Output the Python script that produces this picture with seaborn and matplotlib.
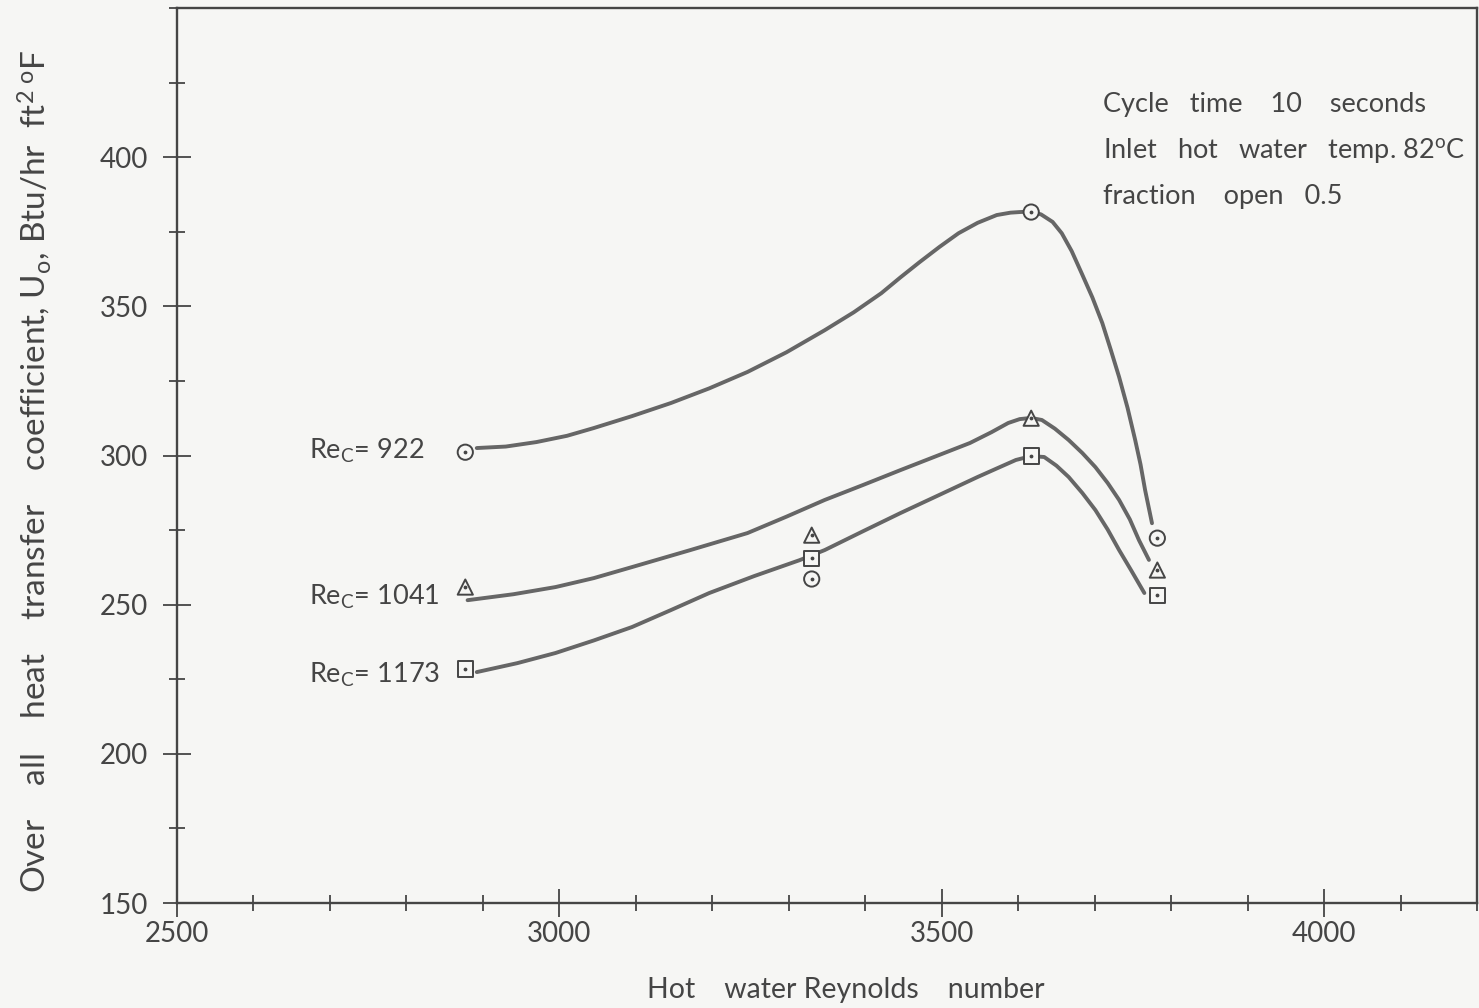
import numpy as np
import pandas as pd
import matplotlib
matplotlib.use("Agg")
import matplotlib.pyplot as plt
import seaborn as sns
from matplotlib.ticker import MultipleLocator

# ---------------- data ----------------
series_names = ["922", "1041", "1173"]
series_labels = ["Re$_{\\rm C}$= 922", "Re$_{\\rm C}$= 1041", "Re$_{\\rm C}$= 1173"]
series_markers = ["o", "^", "s"]

meas_x = [2877, 3330, 3617, 3782]
u_922 = [301.1, 258.6, 381.6, 272.3]
u_1041 = [255.9, 273.3, 312.5, 261.6]
u_1173 = [228.4, 265.6, 299.8, 253.2]

# hand-drawn fitted curves
curve_922_x = [2892, 2930, 2970, 3010, 3045, 3095, 3146, 3196, 3246, 3297, 3347, 3385, 3421,
               3446, 3471, 3497, 3522, 3547, 3572, 3590, 3602, 3617,
               3630, 3645, 3657, 3670, 3683, 3697, 3710, 3721, 3732, 3743, 3753, 3760, 3766, 3775]
curve_922_y = [302.5, 303.0, 304.5, 306.6, 309.2, 313.2, 317.6, 322.5, 328.0, 334.6, 342.0, 348.0, 354.4,
               359.7, 364.8, 369.9, 374.5, 378.0, 380.6, 381.4, 381.6, 381.8,
               380.8, 378.3, 374.5, 368.5, 361.1, 353.0, 344.4, 335.5, 326.3, 316.0, 305.2, 297.0, 288.4, 277.3]

curve_1041_x = [2880, 2940, 2995, 3045, 3095, 3170, 3246, 3297, 3347, 3397, 3446, 3492, 3537,
                3565, 3587, 3602, 3617,
                3631, 3648, 3666, 3684, 3701, 3717, 3732, 3746, 3758, 3771]
curve_1041_y = [251.5, 253.5, 255.9, 258.9, 262.6, 268.2, 274.0, 279.5, 285.1, 290.1, 295.1, 299.7, 304.2,
                307.8, 310.9, 312.2, 312.6,
                311.9, 309.0, 305.2, 300.8, 296.1, 290.8, 285.1, 278.6, 271.6, 265.0]

curve_1173_x = [2892, 2945, 2995, 3045, 3095, 3146, 3196, 3255, 3314, 3347, 3397, 3446, 3497,
                3547, 3575, 3597, 3617,
                3634, 3650, 3666, 3684, 3701, 3717, 3732, 3748, 3765]
curve_1173_y = [227.4, 230.4, 233.8, 238.0, 242.5, 248.2, 253.9, 259.6, 264.9, 268.3, 274.6, 280.7, 286.8,
                292.8, 296.0, 298.5, 299.8,
                299.5, 296.6, 292.8, 287.4, 281.7, 275.2, 268.3, 261.4, 253.9]

x_ticks = [2500, 3000, 3500, 4000]
y_ticks = [150, 200, 250, 300, 350, 400]

annotation_lines = ["Cycle   time    10    seconds",
                    "Inlet   hot   water   temp. 82$^{\\rm o}$C",
                    "fraction    open   0.5"]

# ---------------- build tables ----------------
meas = pd.DataFrame({
    "Re": np.repeat(series_names, len(meas_x)),
    "x": meas_x * 3,
    "U": u_922 + u_1041 + u_1173,
})
curves = pd.concat([
    pd.DataFrame({"Re": "922", "x": curve_922_x, "U": curve_922_y}),
    pd.DataFrame({"Re": "1041", "x": curve_1041_x, "U": curve_1041_y}),
    pd.DataFrame({"Re": "1173", "x": curve_1173_x, "U": curve_1173_y}),
], ignore_index=True)

# ---------------- style ----------------
sns.set_theme(style="white")
FONT = "Lato"
plt.rcParams["font.family"] = [FONT, "DejaVu Sans"]
plt.rcParams["mathtext.fontset"] = "custom"
plt.rcParams["mathtext.rm"] = FONT
plt.rcParams["mathtext.it"] = FONT
INK = "#454545"
LINE = "#666666"
PAPER = "#f6f6f4"

fig = plt.figure(figsize=(14.79, 10.08), dpi=100, facecolor=PAPER)
ax = fig.add_axes([177 / 1479, 1 - 903 / 1008, 1300 / 1479, 895 / 1008])
ax.set_facecolor(PAPER)

sns.lineplot(data=curves, x="x", y="U", hue="Re", units="Re", estimator=None, sort=False,
             palette={k: LINE for k in series_names}, linewidth=2.8, legend=False, ax=ax,
             solid_joinstyle="round", solid_capstyle="round")
sns.scatterplot(data=meas, x="x", y="U", style="Re",
                markers={k: m for k, m in zip(series_names, series_markers)},
                s=120, facecolor=PAPER, edgecolor=INK, linewidth=1.4, legend=False,
                ax=ax, zorder=5)
ax.scatter(meas["x"], meas["U"], s=3, color=INK, zorder=6)

ax.set_xlim(2500, 4200)
ax.set_ylim(150, 450)
ax.set_xticks(x_ticks)
ax.set_yticks(y_ticks)
ax.xaxis.set_minor_locator(MultipleLocator(100))
ax.yaxis.set_minor_locator(MultipleLocator(25))
ax.tick_params(axis="both", which="both", bottom=True, left=True, top=False, right=False)
ax.tick_params(axis="both", which="major", direction="inout", length=20, width=1.3,
               color=INK, labelsize=20, labelcolor=INK)
ax.tick_params(axis="both", which="minor", direction="inout", length=11, width=1.3, color=INK)
ax.tick_params(axis="x", which="major", pad=3)
ax.tick_params(axis="y", which="major", pad=11)
for sp in ax.spines.values():
    sp.set_color(INK)
    sp.set_linewidth(1.7)
ax.set_xlabel("")
ax.set_ylabel("")

fig.text(846 / 1479, 1 - 990 / 1008, "Hot    water Reynolds    number", ha="center", va="center",
         fontsize=20.5, color=INK)
fig.text(35 / 1479, 1 - 472 / 1008,
         "Over    all    heat    transfer    coefficient, U$_{\\rm o}$, Btu/hr  ft$^{\\rm 2 \\ o}$F",
         rotation=90, ha="center", va="center", fontsize=24, color=INK)

ann_y = [0.892, 0.841, 0.789]
for txt, yy in zip(annotation_lines, ann_y):
    ax.text(0.712, yy, txt, transform=ax.transAxes, ha="left", va="center",
            fontsize=19.5, color=INK)

label_y = [301.5, 252.5, 226.4]
for lab, yy in zip(series_labels, label_y):
    ax.text(2672, yy, lab, ha="left", va="center", fontsize=19.5, color=INK)

fig.savefig("out.png", dpi=100, facecolor=PAPER)
